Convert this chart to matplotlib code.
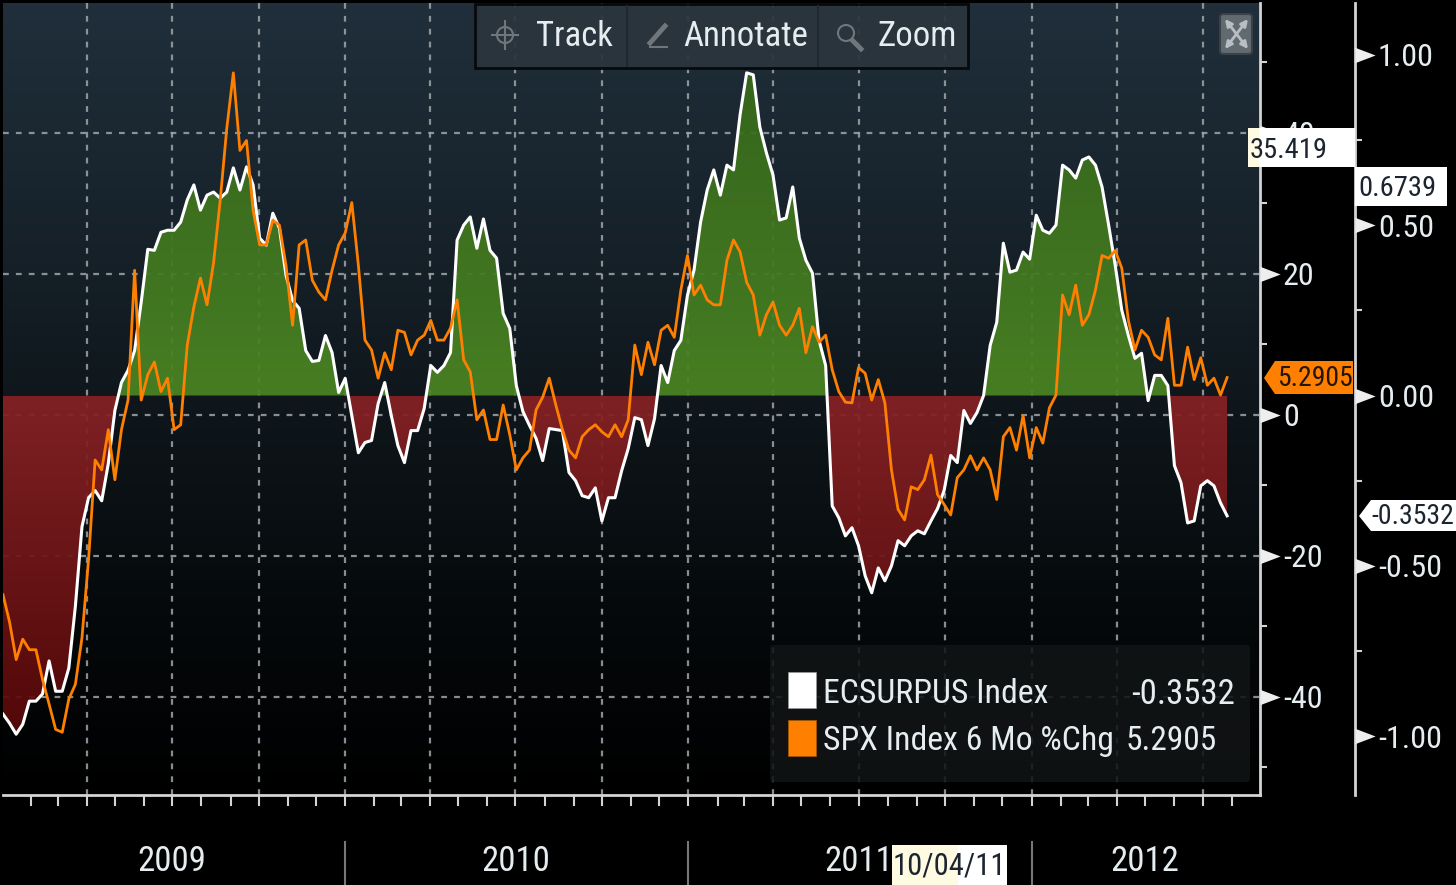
import numpy as np
import pandas as pd
import matplotlib
matplotlib.use("Agg")
import matplotlib.pyplot as plt
import matplotlib.dates as mdates
from matplotlib.colors import LinearSegmentedColormap
from matplotlib.markers import MarkerStyle
from matplotlib.path import Path
from matplotlib.patches import Circle, FancyBboxPatch, Polygon, Rectangle

# ECSURPUS Index, weekly readings (right scale)
surprise = [
    -0.935, -0.962, -0.994, -0.965, -0.897, -0.897, -0.876, -0.779, -0.868, -0.868,
    -0.800, -0.618, -0.385, -0.300, -0.279, -0.309, -0.200, -0.044, 0.038, 0.074,
    0.132, 0.274, 0.429, 0.426, 0.479, 0.485, 0.485, 0.509, 0.574, 0.618,
    0.544, 0.588, 0.597, 0.579, 0.597, 0.668, 0.603, 0.671, 0.618, 0.462,
    0.441, 0.535, 0.491, 0.353, 0.279, 0.256, 0.132, 0.100, 0.103, 0.176,
    0.126, 0.009, 0.050, -0.059, -0.168, -0.138, -0.132, -0.024, 0.038, -0.059,
    -0.147, -0.197, -0.103, -0.103, -0.038, 0.088, 0.068, 0.088, 0.126, 0.456,
    0.500, 0.524, 0.432, 0.518, 0.426, 0.403, 0.241, 0.197, 0.029, -0.047,
    -0.088, -0.126, -0.191, -0.097, -0.100, -0.103, -0.226, -0.250, -0.294, -0.300,
    -0.271, -0.368, -0.300, -0.300, -0.221, -0.156, -0.065, -0.071, -0.147, -0.068,
    0.088, 0.038, 0.132, 0.162, 0.294, 0.368, 0.509, 0.603, 0.662, 0.588,
    0.676, 0.662, 0.824, 0.947, 0.941, 0.788, 0.712, 0.647, 0.515, 0.521,
    0.612, 0.462, 0.397, 0.359, 0.162, 0.088, -0.324, -0.359, -0.412, -0.388,
    -0.441, -0.529, -0.579, -0.506, -0.544, -0.500, -0.426, -0.441, -0.412, -0.397,
    -0.406, -0.368, -0.332, -0.279, -0.176, -0.197, -0.044, -0.082, -0.050, 0.000,
    0.147, 0.215, 0.447, 0.362, 0.368, 0.421, 0.400, 0.529, 0.485, 0.476,
    0.500, 0.676, 0.662, 0.638, 0.691, 0.700, 0.676, 0.612, 0.500, 0.382,
    0.250, 0.176, 0.109, 0.124, -0.015, 0.059, 0.059, 0.029, -0.206, -0.256,
    -0.374, -0.368, -0.265, -0.250, -0.265, -0.315, -0.3532,
]

# SPX Index 6 month % change, weekly readings (left scale)
spx_chg = [
    -25.5, -29.4, -34.7, -31.8, -33.3, -33.3, -37.5, -41.0, -44.6, -45.0,
    -40.3, -38.2, -31.6, -20.5, -6.4, -7.8, -2.1, -9.2, -2.1, 2.1,
    20.5, 2.1, 5.7, 7.5, 3.3, 5.2, -2.1, -1.4, 9.9, 15.3,
    19.4, 15.6, 21.6, 30.4, 40.6, 48.5, 37.5, 38.9, 29.0, 24.1,
    24.1, 27.6, 26.9, 21.2, 12.7, 24.1, 24.8, 19.1, 17.4, 16.3,
    20.5, 24.1, 25.8, 30.1, 21.2, 10.6, 9.2, 5.2, 8.8, 6.4,
    12.0, 11.7, 8.5, 10.6, 11.3, 13.4, 10.6, 10.6, 12.3, 16.3,
    7.8, 6.1, -0.7, 0.7, -3.5, -3.5, 1.4, -2.8, -7.8, -6.1,
    -5.0, 0.7, 2.5, 5.2, 1.4, -2.1, -5.0, -6.1, -3.1, -2.1,
    -1.4, -2.4, -3.1, -1.4, -3.1, -0.7, 9.9, 5.7, 10.3, 7.1,
    12.0, 12.7, 11.0, 17.7, 22.6, 17.0, 18.4, 16.3, 15.6, 15.6,
    21.9, 24.8, 23.1, 18.8, 17.0, 11.3, 14.2, 16.0, 12.7, 11.3,
    12.7, 15.1, 8.8, 12.5, 10.3, 11.3, 6.4, 3.3, 1.8, 1.7,
    6.7, 5.9, 2.1, 5.0, 1.7, -7.8, -13.4, -14.9, -10.2, -10.6,
    -9.2, -5.7, -11.3, -12.7, -14.2, -8.9, -7.8, -5.8, -7.8, -6.1,
    -7.8, -12.0, -3.1, -1.8, -5.0, -0.1, -6.1, -1.8, -4.0, 1.0,
    2.8, 17.0, 14.2, 18.4, 12.7, 14.2, 17.7, 22.6, 22.2, 23.3,
    20.8, 13.4, 9.2, 12.0, 11.0, 8.5, 7.8, 13.7, 4.2, 4.2,
    9.6, 5.0, 8.1, 4.2, 5.2, 2.8, 5.2905,
]

left_major = [40, 20, 0, -20, -40]
left_minor = [50, 30, 10, -10, -30, -50]
right_major = [1.0, 0.5, 0.0, -0.5, -1.0]
right_minor = [0.75, 0.25, -0.25, -0.75]
right_labels = ["1.00", "0.50", "0.00", "-0.50", "-1.00"]
years = ["2009", "2010", "2011", "2012"]
year_centres = ["2009-07-01", "2010-07-01", "2011-07-01", "2012-05-01"]
year_breaks = ["2010-01-01", "2011-01-01", "2012-01-01"]

W, H = 1456, 885
FONT = ["Roboto Condensed", "PT Sans Narrow", "Liberation Sans"]
TEXT = "#e6edf0"
LINE = "#d2d4d6"

plt.rcParams["font.family"] = FONT
plt.rcParams["axes.unicode_minus"] = False

dates = pd.date_range("2009-01-02", periods=len(surprise), freq="W-FRI")
x_start = pd.Timestamp("2009-01-02")
x_end = x_start + pd.Timedelta(weeks=191)

fig = plt.figure(figsize=(W / 100, H / 100), dpi=100, facecolor="black")

# main axes: background, grid and left scale
ax = fig.add_axes([3 / W, 1 - 795 / H, 1257 / W, 792 / H], facecolor="black")
ax2 = ax.twinx()
ax.set_zorder(1)
ax2.set_zorder(2)
ax2.patch.set_visible(False)

bg = LinearSegmentedColormap.from_list("bg", ["#202f3b", "#18242d", "#0f171c", "#060a0c", "#000000"])
ax.imshow(np.linspace(0, 1, 256).reshape(-1, 1), cmap=bg, extent=(0, 1, 0, 1), transform=ax.transAxes,
          aspect="auto", zorder=0)

ax.xaxis.set_major_locator(mdates.MonthLocator(bymonth=(1, 4, 7, 10)))
ax.xaxis.set_minor_locator(mdates.MonthLocator())
ax.set_yticks(left_major)
ax.set_yticks(left_minor, minor=True)
ax.yaxis.tick_right()
ax.grid(True, which="major", color="#a0a5a8", alpha=0.85, linewidth=1.6, linestyle=(0, (2.6, 3.2)))
ax.tick_params(axis="x", which="both", length=8, width=1.5, color=LINE, labelbottom=False)
ax.tick_params(axis="y", which="major", length=0, pad=16.5, labelcolor=TEXT, labelsize=23)
ax.tick_params(axis="y", which="minor", length=5, width=1.5, color=LINE)
for side in ["top", "left"]:
    ax.spines[side].set_visible(False)
for side in ["right", "bottom"]:
    ax.spines[side].set_color(LINE)
    ax.spines[side].set_linewidth(2)

# filled area between the surprise index and zero, colour fades with height
y_surprise = np.array(surprise)
green_fill = ax2.fill_between(dates, 0, y_surprise, where=y_surprise >= 0, interpolate=True, color="none")
red_fill = ax2.fill_between(dates, 0, y_surprise, where=y_surprise <= 0, interpolate=True, color="none")
cmap_green = LinearSegmentedColormap.from_list("g", ["#33641a", "#4b8523"])
cmap_red = LinearSegmentedColormap.from_list("r", ["#872225", "#500404"])
green_im = ax2.imshow(np.linspace(0, 1, 256).reshape(-1, 1), cmap=cmap_green, alpha=0.94,
                      extent=(0, 1, 1 - 393 / 792, 1), transform=ax2.transAxes, aspect="auto", zorder=1)
red_im = ax2.imshow(np.linspace(0, 1, 256).reshape(-1, 1), cmap=cmap_red, alpha=0.94,
                    extent=(0, 1, 0, 1 - 393 / 792), transform=ax2.transAxes, aspect="auto", zorder=1)
green_im.set_clip_path(Path.make_compound_path(*green_fill.get_paths()), ax2.transData)
red_im.set_clip_path(Path.make_compound_path(*red_fill.get_paths()), ax2.transData)

ax2.plot(dates, surprise, color="white", linewidth=2.2, zorder=3)
ax2.plot(dates, spx_chg, color="#ff8000", linewidth=2.0, zorder=4, transform=ax.transData)

ax.set_xlim(x_start, x_end)
ax2.set_xlim(x_start, x_end)
ax.set_ylim(-53.9, 58.4)
ax2.set_ylim(-399.5 / 340.75, 392.5 / 340.75)

# right hand scale
far_x = (1355 - 3) / 1257
ax2.spines["right"].set_position(("axes", far_x))
ax2.spines["right"].set_color(LINE)
ax2.spines["right"].set_linewidth(2)
for side in ["top", "left", "bottom"]:
    ax2.spines[side].set_visible(False)
ax2.set_yticks(right_major)
ax2.set_yticklabels(right_labels)
ax2.set_yticks(right_minor, minor=True)
ax2.tick_params(axis="y", which="major", length=0, pad=16.5, labelcolor=TEXT, labelsize=23)
ax2.tick_params(axis="y", which="minor", length=5, width=1.5, color=LINE)

# arrow shaped major ticks
arrow = MarkerStyle(Path([(0, -0.38), (1, 0), (0, 0.38), (0, -0.38)], closed=True))
ax.plot([1] * len(left_major), left_major, transform=ax.get_yaxis_transform(), linestyle="none", marker=arrow,
        markersize=29, color="#eeeeee", markeredgewidth=0, clip_on=False, zorder=5)
ax2.plot([far_x] * len(right_major), right_major, transform=ax2.get_yaxis_transform(), linestyle="none",
         marker=arrow, markersize=29, color="#eeeeee", markeredgewidth=0, clip_on=False, zorder=5)

# year labels under the axis
for name, centre in zip(years, year_centres):
    ax.text(pd.Timestamp(centre), -0.084, name, transform=ax.get_xaxis_transform(), color=TEXT, fontsize=25,
            ha="center", va="center", clip_on=False)
for brk in year_breaks:
    ax.plot([pd.Timestamp(brk)] * 2, [-0.0595, -0.115], transform=ax.get_xaxis_transform(), color="#777777",
            linewidth=1.5, clip_on=False)
ax.set_xlim(x_start, x_end)

# overlay in pixels for the terminal furniture
top = fig.add_axes([0, 0, 1, 1], facecolor="none", zorder=10)
top.set_xlim(0, W)
top.set_ylim(H, 0)
top.axis("off")

# toolbar
top.add_patch(Rectangle((475, 4), 493, 64, facecolor="#2b353d", edgecolor="#050708", linewidth=2, alpha=0.93))
for sep in [627, 818]:
    top.plot([sep, sep], [6, 66], color="#20282e", linewidth=1.5)
top.text(574, 37, "Track", color=TEXT, fontsize=25, ha="center", va="center")
top.text(746, 37, "Annotate", color=TEXT, fontsize=25, ha="center", va="center")
top.text(917, 37, "Zoom", color=TEXT, fontsize=25, ha="center", va="center")
icon = "#6f777d"
top.add_patch(Circle((505, 35), 8, facecolor="none", edgecolor=icon, linewidth=1.5))
top.plot([505, 505], [21, 49], color=icon, linewidth=1.5)
top.plot([492, 518], [35, 35], color=icon, linewidth=1.5)
top.plot([650, 665], [43, 26], color=icon, linewidth=3.5)
top.plot([650, 667], [47, 47], color=icon, linewidth=1.5)
top.add_patch(Circle((846, 33), 8, facecolor="none", edgecolor=icon, linewidth=1.5))
top.plot([853, 861], [41, 49], color=icon, linewidth=3.5)

# expand button
top.add_patch(FancyBboxPatch((1220, 14), 32, 40, boxstyle="round,pad=0,rounding_size=3", facecolor="#626a71",
                             edgecolor="#3a4147", linewidth=1.5))
top.annotate("", xy=(1225, 19), xytext=(1248, 49),
             arrowprops=dict(arrowstyle="<|-|>", color="#b9bec2", lw=2, shrinkA=0, shrinkB=0))
top.annotate("", xy=(1248, 19), xytext=(1225, 49),
             arrowprops=dict(arrowstyle="<|-|>", color="#b9bec2", lw=2, shrinkA=0, shrinkB=0))

# legend
top.add_patch(FancyBboxPatch((770, 645), 480, 137, boxstyle="round,pad=0,rounding_size=4", facecolor="#111415",
                             edgecolor="none", alpha=0.88))
top.add_patch(Rectangle((788, 672), 28, 36, facecolor="white", edgecolor="#999999", linewidth=0.5))
top.add_patch(Rectangle((788, 720), 28, 36, facecolor="#ff8000", edgecolor="#a85500", linewidth=0.5))
top.text(823, 694, "ECSURPUS Index", color=TEXT, fontsize=24.3, va="center")
top.text(823, 741, "SPX Index 6 Mo %Chg", color=TEXT, fontsize=24.3, va="center")
top.text(1235, 694, "-0.3532", color=TEXT, fontsize=25, va="center", ha="right")
top.text(1217, 741, "5.2905", color=TEXT, fontsize=24, va="center", ha="right")

# value flags on the scales
top.add_patch(Rectangle((1248, 128), 107, 39, facecolor="white", edgecolor="none"))
top.add_patch(Rectangle((1248, 128), 11, 39, facecolor="#fffbe2", edgecolor="none"))
top.text(1250, 150, "35.419", color="#1c2430", fontsize=20.5, va="center")
top.add_patch(Rectangle((1355, 167), 92, 39, facecolor="white", edgecolor="none"))
top.text(1358, 188, "0.6739", color="#1c2430", fontsize=20.5, va="center")
top.add_patch(Polygon([(1264, 378), (1275, 361), (1353, 361), (1353, 394), (1275, 394)], closed=True,
                      facecolor="#ff8000", edgecolor="none"))
top.text(1277, 379, "5.2905", color="#231508", fontsize=20, va="center")
top.add_patch(Polygon([(1359, 516), (1371, 500), (1456, 500), (1456, 531), (1371, 531)], closed=True,
                      facecolor="white", edgecolor="none"))
top.text(1371, 516, "-0.3532", color="#1c2430", fontsize=20, va="center")

# crosshair date flag
top.add_patch(Rectangle((892, 845), 115, 40, facecolor="white", edgecolor="none"))
top.add_patch(Rectangle((892, 845), 66, 40, facecolor="#fffbe2", edgecolor="none"))
top.text(949, 866, "10/04/11", color="#1c2430", fontsize=22, ha="center", va="center")

fig.savefig("out.png", dpi=100, facecolor="black")
